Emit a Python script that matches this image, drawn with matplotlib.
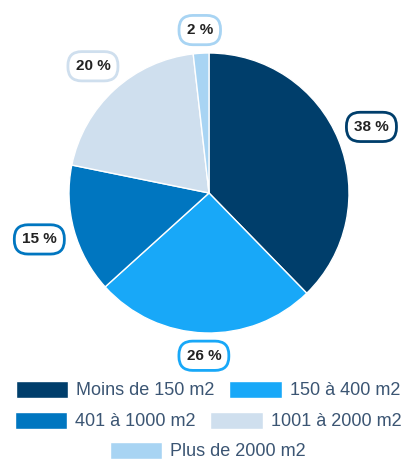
import matplotlib.pyplot as plt
import numpy as np

plt.rcParams['font.family'] = ['Liberation Sans', 'DejaVu Sans']

# Données (répartition des surfaces)
categories = ["Moins de 150 m2", "150 à 400 m2", "401 à 1000 m2", "1001 à 2000 m2", "Plus de 2000 m2"]
valeurs = [37.7, 25.6, 14.9, 20.0, 1.8]
etiquettes = ["38 %", "26 %", "15 %", "20 %", "2 %"]
couleurs = ["#003e6b", "#18a8f8", "#0076c0", "#cfdfee", "#a8d4f3"]

W, H = 408, 462
fig = plt.figure(figsize=(W / 100, H / 100), dpi=100)
ax = fig.add_axes([69 / W, 129 / H, 280 / W, 280 / H])

wedges, _ = ax.pie(valeurs, colors=couleurs, startangle=90, counterclock=False,
                   wedgeprops=dict(edgecolor="white", linewidth=1, clip_on=False))
ax.set_xlim(-1, 1)
ax.set_ylim(-1, 1)
ax.set_aspect("equal")

# Etiquettes dans des bulles
for w, txt, c in zip(wedges, etiquettes, couleurs):
    ang = np.deg2rad((w.theta1 + w.theta2) / 2)
    dx, dy = np.cos(ang), np.sin(ang)
    r = 1.16 + 0.1 * abs(dx)
    ax.text(r * dx, r * dy, txt, ha="center", va="center", fontsize=11,
            fontweight="bold", color="#222222",
            bbox=dict(boxstyle="round,pad=0.5,rounding_size=0.9", fc="white", ec=c, lw=2))

# Légende en trois lignes centrées
rangs = [[0, 1], [2, 3], [4]]
ys = [390, 421, 451]
for rang, y in zip(rangs, ys):
    fig.legend([wedges[i] for i in rang], [categories[i] for i in rang],
               loc="center", bbox_to_anchor=(208 / W, 1 - y / H), ncol=len(rang),
               frameon=False, fontsize=13, labelcolor="#3b5573",
               handlelength=2.9, handleheight=1.1, handletextpad=0.45,
               columnspacing=0.8, borderpad=0, borderaxespad=0)

fig.savefig("out.png", dpi=100)
